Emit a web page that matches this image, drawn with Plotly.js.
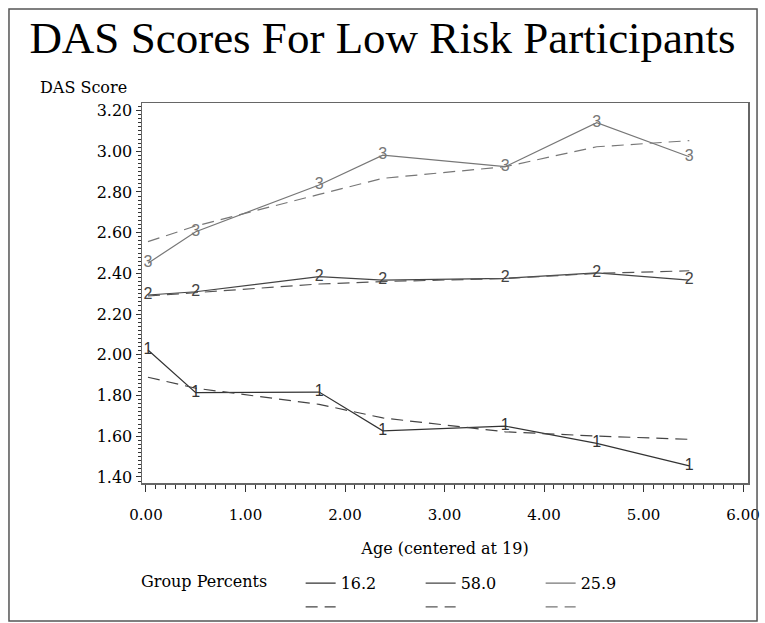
<!DOCTYPE html>
<html>
<head>
<meta charset="utf-8">
<script src="https://cdn.plot.ly/plotly-3.0.1.min.js"></script>
<style>
  html, body { margin: 0; padding: 0; background: #fff; }
  #chart { width: 765px; height: 623px; }
</style>
</head>
<body>
<div id="chart"></div>
<script>
// ---- data ----
const ageX = [0.02, 0.50, 1.74, 2.38, 3.61, 4.53, 5.46];

const grp1Obs = [2.024, 1.814, 1.817, 1.627, 1.650, 1.565, 1.455];
const grp1Fit = [1.890, 1.836, 1.757, 1.690, 1.622, 1.601, 1.585];

const grp2Obs = [2.294, 2.310, 2.384, 2.367, 2.376, 2.403, 2.367];
const grp2Fit = [2.289, 2.305, 2.348, 2.360, 2.375, 2.400, 2.413];

const grp3Obs = [2.450, 2.605, 2.834, 2.981, 2.924, 3.140, 2.973];
const grp3Fit = [2.556, 2.633, 2.788, 2.867, 2.924, 3.022, 3.052];

const groupSymbols  = ['1', '2', '3'];
const groupPercents = ['16.2', '58.0', '25.9'];

const xTickVals   = [0, 1, 2, 3, 4, 5, 6];
const xTickLabels = ['0.00', '1.00', '2.00', '3.00', '4.00', '5.00', '6.00'];
const yTickVals   = [1.4, 1.6, 1.8, 2.0, 2.2, 2.4, 2.6, 2.8, 3.0, 3.2];
const yTickLabels = ['1.40', '1.60', '1.80', '2.00', '2.20', '2.40', '2.60', '2.80', '3.00', '3.20'];

const chartTitle = 'DAS Scores For Low Risk Participants';
const yLabel = 'DAS Score';
const xLabel = 'Age (centered at 19)';
const legendLabel = 'Group Percents';

// ---- styling ----
const obsSeries = [grp1Obs, grp2Obs, grp3Obs];
const fitSeries = [grp1Fit, grp2Fit, grp3Fit];
const solidColors = ['#333333', '#444444', '#777777'];
const dashColors  = ['#444444', '#555555', '#777777'];
const serif = 'DejaVu Serif, serif';

const traces = [];
for (let g = 0; g < 3; g++) {
  // observed line (legend entry, solid)
  traces.push({
    type: 'scatter', mode: 'lines', x: ageX, y: obsSeries[g],
    name: groupPercents[g], legendgroup: 'g' + g,
    line: { color: solidColors[g], width: 1.2 },
    hoverinfo: 'skip'
  });
  // fitted line (legend entry, dashed)
  traces.push({
    type: 'scatter', mode: 'lines', x: ageX, y: fitSeries[g],
    name: ' ', legendgroup: 'g' + g,
    line: { color: dashColors[g], width: 1.2, dash: '12px,7px' },
    hoverinfo: 'skip'
  });
}
for (let g = 0; g < 3; g++) {
  // group symbol characters at observed points
  traces.push({
    type: 'scatter', mode: 'text', x: ageX, y: obsSeries[g],
    text: ageX.map(() => groupSymbols[g]),
    textposition: 'middle center',
    textfont: { family: 'Liberation Sans, sans-serif', size: 16, color: solidColors[g] },
    showlegend: false, hoverinfo: 'skip'
  });
}

const layout = {
  width: 765, height: 623,
  paper_bgcolor: '#ffffff', plot_bgcolor: '#ffffff',
  margin: { l: 142, r: 17, t: 103, b: 140, autoexpand: false },
  showlegend: true,
  title: {
    text: chartTitle,
    font: { family: 'Liberation Serif, serif', size: 45, color: '#000' },
    x: 0.5, xref: 'container', xanchor: 'center',
    y: 0.94, yref: 'container', yanchor: 'middle'
  },
  xaxis: {
    range: [-0.04, 6.05], automargin: false,
    tickmode: 'array', tickvals: xTickVals, ticktext: xTickLabels,
    ticks: 'outside', ticklen: 7, tickwidth: 1, tickcolor: '#333',
    ticklabelstandoff: 10,
    minor: { tickmode: 'linear', tick0: 0, dtick: 0.1, ticks: 'outside', ticklen: 4, tickwidth: 1, tickcolor: '#333', showgrid: false },
    showgrid: false, zeroline: false,
    showline: true, mirror: true, linecolor: '#666', linewidth: 1.5,
    tickfont: { family: serif, size: 15, color: '#000' },
    title: { text: xLabel, font: { family: serif, size: 16, color: '#000' }, standoff: 20 }
  },
  yaxis: {
    range: [1.3705, 3.237], automargin: false,
    tickmode: 'array', tickvals: yTickVals, ticktext: yTickLabels,
    ticks: 'outside', ticklen: 5, tickwidth: 1, tickcolor: '#333',
    minor: { tickmode: 'linear', tick0: 1.4, dtick: 0.02, ticks: 'outside', ticklen: 3, tickwidth: 1, tickcolor: '#333', showgrid: false },
    showgrid: false, zeroline: false,
    showline: true, mirror: true, linecolor: '#666', linewidth: 1.5,
    tickfont: { family: serif, size: 16, color: '#000' }
  },
  legend: {
    orientation: 'h', traceorder: 'grouped',
    xref: 'paper', x: -0.005, xanchor: 'left',
    yref: 'paper', y: -0.219, yanchor: 'top',
    entrywidth: 75,
    font: { family: serif, size: 16, color: '#000' },
    title: { text: legendLabel + '&nbsp;&nbsp;&nbsp;&nbsp;&nbsp;', side: 'left', font: { family: serif, size: 16, color: '#000' } },
    bgcolor: 'rgba(0,0,0,0)', borderwidth: 0
  },
  annotations: [{
    text: yLabel, xref: 'paper', yref: 'paper',
    x: -0.1716, y: 1.042, xanchor: 'left', yanchor: 'middle',
    showarrow: false, font: { family: serif, size: 16, color: '#000' }
  }],
  shapes: [{
    type: 'rect', xref: 'paper', yref: 'paper',
    x0: -0.2195, x1: 1.0149, y0: -0.3632, y1: 1.2474,
    line: { color: '#555', width: 1.5 }, fillcolor: 'rgba(0,0,0,0)'
  }]
};

Plotly.newPlot('chart', traces, layout, { staticPlot: true, displayModeBar: false });
</script>
</body>
</html>
